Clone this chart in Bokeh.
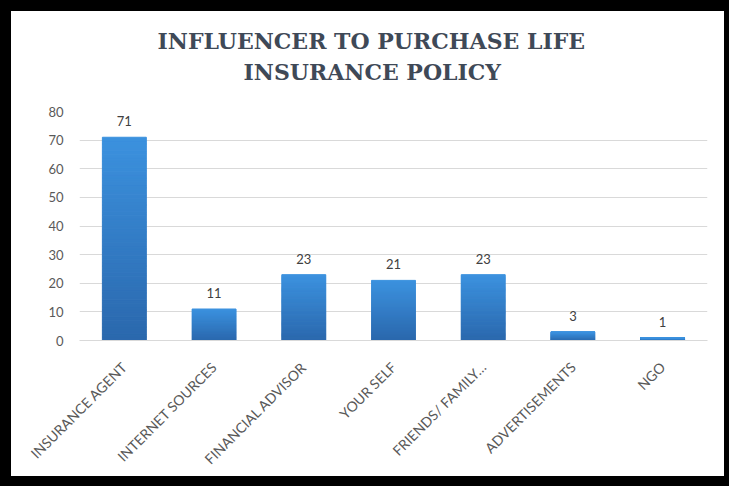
import numpy as np
from bokeh.plotting import figure
from bokeh.models import ColumnDataSource, FactorRange, Range1d, FixedTicker, Title, LabelSet
from bokeh.core.properties import value
from bokeh.embed import file_html
from bokeh.resources import INLINE

categories = ["INSURANCE AGENT", "INTERNET SOURCES", "FINANCIAL ADVISOR", "YOUR SELF",
              "FRIENDS/ FAMILY…", "ADVERTISEMENTS", "NGO"]
values = [71, 11, 23, 21, 23, 3, 1]
y_ticks = [0, 10, 20, 30, 40, 50, 60, 70, 80]
title_lines = ["INFLUENCER TO PURCHASE LIFE", "INSURANCE POLICY"]

W, H = 729, 486
BL, BT, BR, BB = 11, 11, 5, 10   # black picture-frame widths (left, top, right, bottom)
p = figure(x_range=FactorRange(*categories, range_padding=0), y_range=Range1d(0, 80),
           width=W, height=H, output_backend="svg", toolbar_location=None,
           min_border_left=79 - BL, min_border_right=BL + W - 707,
           min_border_top=111 - BT, min_border_bottom=BT + H - 340)
p.styles = {"box-sizing": "border-box", "overflow": "hidden",
            "border-left": f"{BL}px solid black", "border-top": f"{BT}px solid black",
            "border-right": f"{BR}px solid black", "border-bottom": f"{BB}px solid black"}

# gradient bars: stacked slices derived from each value
n = 60
top_c = np.array([0x3c, 0x92, 0xdf])
bot_c = np.array([0x2b, 0x68, 0xad])
xs, bots, tops, cols = [], [], [], []
for c, v in zip(categories, values):
    for k in range(n):
        t = (k + 0.5) / n
        rgb = (bot_c * (1 - t) + top_c * t).astype(int)
        xs.append(c)
        bots.append(v * k / n)
        tops.append(v * (k + 1) / n)
        cols.append("#%02x%02x%02x" % tuple(rgb))
seg = ColumnDataSource(dict(x=xs, bottom=bots, top=tops, color=cols))
p.vbar(x="x", bottom="bottom", top="top", width=0.49, fill_color="color",
       line_color="color", line_width=1, source=seg)

src = ColumnDataSource(dict(x=categories, y=values, txt=[str(v) for v in values]))
p.add_layout(LabelSet(x="x", y="y", text="txt", source=src, y_offset=11,
                      text_align="center", text_baseline="bottom",
                      text_font=value("Lato"), text_font_size="13px", text_color="#404040"))

# spacer between plot and titles, then the two title lines (closest to plot first)
p.add_layout(Title(text=" ", text_font_size="2px", standoff=22), "above")
p.add_layout(Title(text=title_lines[1], align="left", offset=164,
                   text_font="DejaVu Serif", text_font_style="bold", text_font_size="22px",
                   text_color="#3f4957", standoff=2), "above")
p.add_layout(Title(text=title_lines[0], align="left", offset=78,
                   text_font="DejaVu Serif", text_font_style="bold", text_font_size="22px",
                   text_color="#3f4957", standoff=3), "above")

p.yaxis.ticker = FixedTicker(ticks=y_ticks)
p.yaxis.axis_line_color = None
p.yaxis.major_tick_line_color = None
p.yaxis.minor_tick_line_color = None
p.yaxis.major_label_text_font = "Lato"
p.yaxis.major_label_text_font_size = "13px"
p.yaxis.major_label_text_color = "#595959"
p.yaxis.major_label_standoff = 10

p.xaxis.axis_line_color = "#d9d9d9"
p.xaxis.major_tick_line_color = None
p.xaxis.minor_tick_line_color = None
p.xaxis.major_label_orientation = np.pi / 4
p.xaxis.major_label_text_font = "Lato"
p.xaxis.major_label_text_font_size = "14px"
p.xaxis.major_label_text_color = "#595959"
p.xaxis.major_label_standoff = 18

p.xgrid.grid_line_color = None
p.ygrid.grid_line_color = "#d9d9d9"
p.outline_line_color = None
p.background_fill_color = "white"
p.border_fill_color = "white"

open("out.html", "w").write(file_html(p, INLINE))
